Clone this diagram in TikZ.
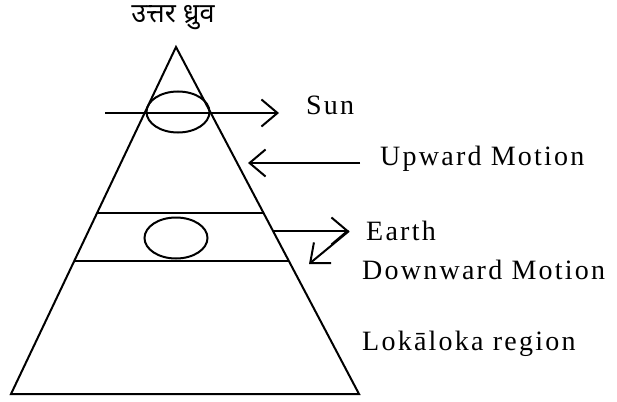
\documentclass[tikz,border=0pt]{standalone}
\usepackage{fontspec}
\setmainfont{Liberation Serif}[LetterSpace=8]
\newfontfamily\devfont[Script=Devanagari]{Noto Sans}
\usetikzlibrary{positioning,shapes.geometric,arrows.meta}

\begin{document}
\begin{tikzpicture}[x=1pt,y=1pt,font=\fontsize{28pt}{30pt}\selectfont,
    orb/.style={draw,ellipse,line width=2pt,minimum width=63pt,minimum height=41pt,inner sep=0pt},
    lbl/.style={anchor=base west,inner sep=0pt},
    ar/.style={-{Straight Barb[length=16pt,width=27pt,line width=2pt]},line width=2pt}]
  \useasboundingbox (0,0) rectangle (617,-401);
  % pyramid and the earth band
  \coordinate (top) at (176,-47);
  \coordinate (bl) at (11,-394);
  \coordinate (br) at (359,-394);
  \draw[line width=2pt] (top) -- (bl) -- (br) -- cycle;
  \draw[line width=2pt] (97,-213) -- (264,-213);
  \draw[line width=2pt] (74,-261) -- (289,-261);
  \node[orb] (sun) at (178,-112) {};
  \node[orb] (earth) at (176,-238) {};
  \node[font=\devfont\fontsize{27pt}{29pt}\selectfont] (pole) at (173,-18) {उत्तर ध्रुव};
  % labels
  \node[lbl] (sunlbl) at (306,-114) {Sun};
  \node[lbl] (uplbl) at (380,-165) {Upward Motion};
  \node[lbl] (earthlbl) at (366,-240) {Earth};
  \node[lbl] (downlbl) at (362,-279) {Downward Motion};
  \node[lbl] (lokalbl) at (362,-350) {Lokāloka region};
  % arrows
  \coordinate (sunfrom) at (105,-113);
  \coordinate (suntip) at (279,-113);
  \coordinate (upfrom) at (360,-163);
  \coordinate (uptip) at (248,-163);
  \coordinate (earthfrom) at (273,-231);
  \coordinate (bend) at (349,-231);
  \coordinate (downtip) at (309,-264);
  \foreach \a/\b in {sunfrom/suntip,upfrom/uptip,earthfrom/bend,bend/downtip}{\draw[ar] (\a) -- (\b);}
\end{tikzpicture}
\end{document}
